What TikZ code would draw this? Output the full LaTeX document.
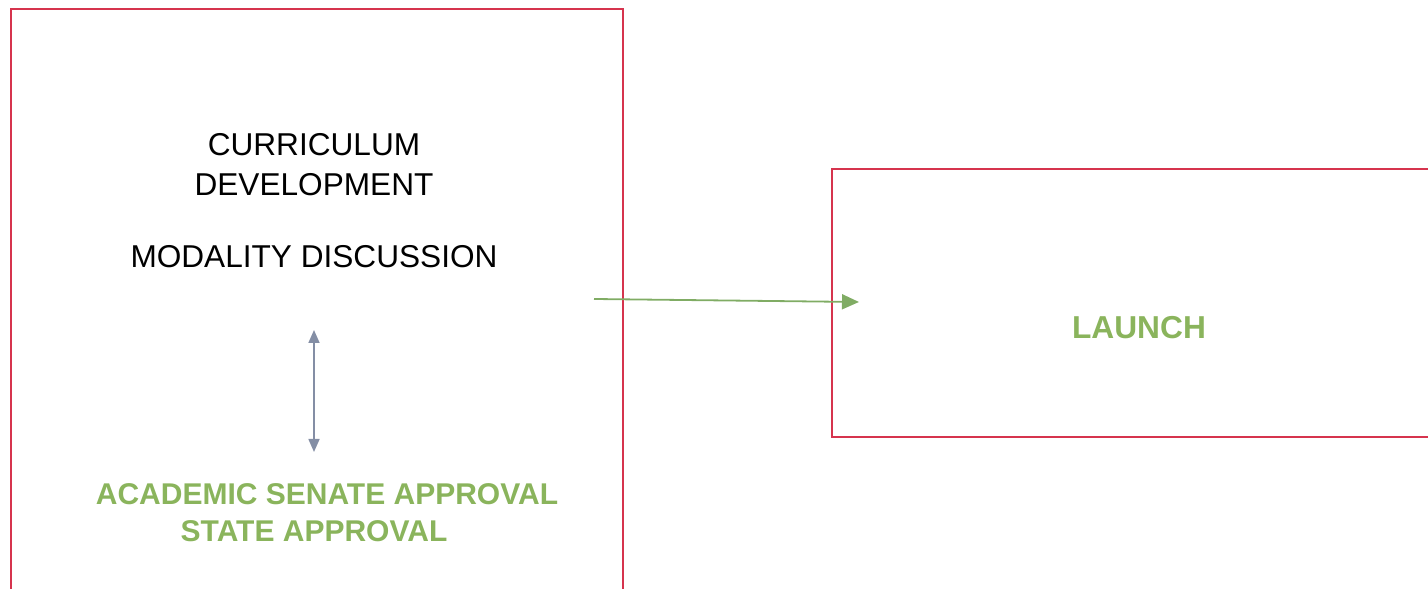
\documentclass[tikz,border=0pt]{standalone}
\usepackage{fontspec}
\setmainfont{Liberation Sans}
\usetikzlibrary{arrows.meta}
\definecolor{boxred}{RGB}{214,52,78}
\definecolor{txtgreen}{RGB}{138,180,92}
\definecolor{arrgreen}{RGB}{128,172,100}
\definecolor{arrgray}{RGB}{132,142,165}
\tikzset{
  frame/.style={draw=boxred, line width=1.8pt, fill=none, inner sep=0pt},
  blacktxt/.style={font=\fontsize{31.6}{40}\selectfont, text=black, align=center, inner sep=0pt},
  greentxt/.style={font=\fontsize{30}{37}\selectfont\bfseries, text=txtgreen, align=center, inner sep=0pt},
  flowarrow/.style={draw=arrgreen, line width=1.8pt, -{Triangle[length=17pt,width=15pt]}},
  dblarrow/.style={draw=arrgray, line width=1.6pt, {Triangle[length=13pt,width=11pt]}-{Triangle[length=13pt,width=11pt]}}
}
\begin{document}
\begin{tikzpicture}[x=1pt,y=1pt]
\useasboundingbox (0,0) rectangle (1428,589);
% boxes
\node[frame, minimum width=612pt, minimum height=620pt, anchor=north west] (leftbox) at (10,581) {};
\node[frame, minimum width=620pt, minimum height=268pt, anchor=north west] (rightbox) at (831,421) {};
% texts
\node[blacktxt] (cur) at (314,424) {CURRICULUM\\DEVELOPMENT};
\node[blacktxt] (mod) at (314,332) {MODALITY DISCUSSION};
\node[greentxt] (appr1) at (327,95) {ACADEMIC SENATE APPROVAL};
\node[greentxt] (appr2) at (314,58) {STATE APPROVAL};
\node[greentxt, font=\fontsize{31.7}{36}\selectfont\bfseries] (launch) at (1139,261) {LAUNCH};
% connectors
\coordinate (upper) at (314,259);
\coordinate (lower) at (314,137);
\draw[dblarrow] (upper) -- (lower);
\coordinate (astart) at (594,290);
\coordinate (aend) at (859,287);
\draw[flowarrow] (astart) -- (aend);
\end{tikzpicture}
\end{document}
